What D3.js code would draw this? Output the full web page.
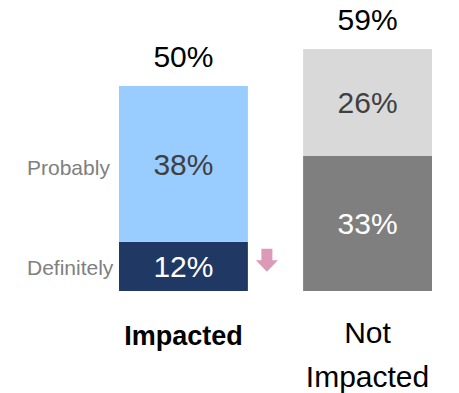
<!DOCTYPE html>
<html>
<head>
<meta charset="utf-8">
<script src="https://cdn.jsdelivr.net/npm/d3@7"></script>
<style>
  html, body { margin: 0; padding: 0; background: #ffffff; }
  svg { display: block; font-family: "Liberation Sans", Arial, sans-serif; }
</style>
</head>
<body>
<div id="chart"></div>
<script>
// Share of respondents, stacked: "Definitely" at the bottom, "Probably" on top
const categories = ["Impacted", "Not Impacted"];
const categoryLines = [["Impacted"], ["Not", "Impacted"]];
const definitely = [12, 33];
const probably = [38, 26];
const segmentNames = ["Definitely", "Probably"];

// Fill and label colours per bar: [Definitely, Probably]
const fills = [["#203864", "#99ccff"], ["#7f7f7f", "#d9d9d9"]];
const labelColors = [["#ffffff", "#404040"], ["#ffffff", "#404040"]];

const width = 459, height = 393;

const svg = d3.select("#chart").append("svg")
  .attr("width", width)
  .attr("height", height);

const x = d3.scaleBand()
  .domain(categories)
  .range([119, 432])
  .paddingInner(0.3)
  .paddingOuter(0);

const y = d3.scaleLinear()
  .domain([0, 100])
  .range([291, -119]);

const rows = categories.map((c, i) => {
  const segs = [definitely[i], probably[i]];
  let acc = 0;
  const stacked = segs.map((v, k) => {
    const s = { cat: c, idx: i, k, value: v, y0: acc, y1: acc + v };
    acc += v;
    return s;
  });
  return { cat: c, idx: i, total: acc, segs: stacked };
});

const fmt = v => `${v}%`;

// Stacked segments
rows.forEach(r => {
  const g = svg.append("g");
  g.selectAll("rect")
    .data(r.segs)
    .join("rect")
    .attr("x", x(r.cat))
    .attr("width", x.bandwidth())
    .attr("y", d => y(d.y1))
    .attr("height", d => y(d.y0) - y(d.y1))
    .attr("fill", d => fills[r.idx][d.k]);

  g.selectAll("text.seg")
    .data(r.segs)
    .join("text")
    .attr("class", "seg")
    .attr("x", x(r.cat) + x.bandwidth() / 2)
    .attr("y", d => (y(d.y0) + y(d.y1)) / 2 + 11)
    .attr("text-anchor", "middle")
    .attr("font-size", 30)
    .attr("fill", d => labelColors[r.idx][d.k])
    .text(d => fmt(d.value));

  // Total above the bar
  g.append("text")
    .attr("x", x(r.cat) + x.bandwidth() / 2)
    .attr("y", y(r.total) - 19)
    .attr("text-anchor", "middle")
    .attr("font-size", 30)
    .attr("fill", "#000000")
    .text(fmt(r.total));
});

// Segment names to the left of the first bar
const first = rows[0];
svg.selectAll("text.segname")
  .data(first.segs)
  .join("text")
  .attr("class", "segname")
  .attr("x", 27)
  .attr("y", d => (y(d.y0) + y(d.y1)) / 2 + (d.k === 0 ? 8.5 : 11.5))
  .attr("font-size", 21)
  .attr("fill", "#808080")
  .text(d => segmentNames[d.k]);

// Downward arrow beside the "Definitely" segment of the first bar
const ax = x(first.cat) + x.bandwidth() + 19;
const ay = y(first.segs[0].y1) + 7;
svg.append("path")
  .attr("transform", `translate(${ax},${ay})`)
  .attr("d", "M-5.5,0 H5.5 V11.5 H11 L0,23 L-11,11.5 H-5.5 Z")
  .attr("fill", "#dc9ab8");

// Category labels under the bars
rows.forEach(r => {
  const t = svg.append("text")
    .attr("x", x(r.cat) + x.bandwidth() / 2)
    .attr("y", r.idx === 0 ? 345 : 343)
    .attr("text-anchor", "middle")
    .attr("font-size", r.idx === 0 ? 27 : 30)
    .attr("font-weight", r.idx === 0 ? "bold" : "normal")
    .attr("fill", "#000000");
  categoryLines[r.idx].forEach((line, j) => {
    t.append("tspan")
      .attr("x", x(r.cat) + x.bandwidth() / 2)
      .attr("dy", j === 0 ? 0 : 44)
      .text(line);
  });
});
</script>
</body>
</html>
